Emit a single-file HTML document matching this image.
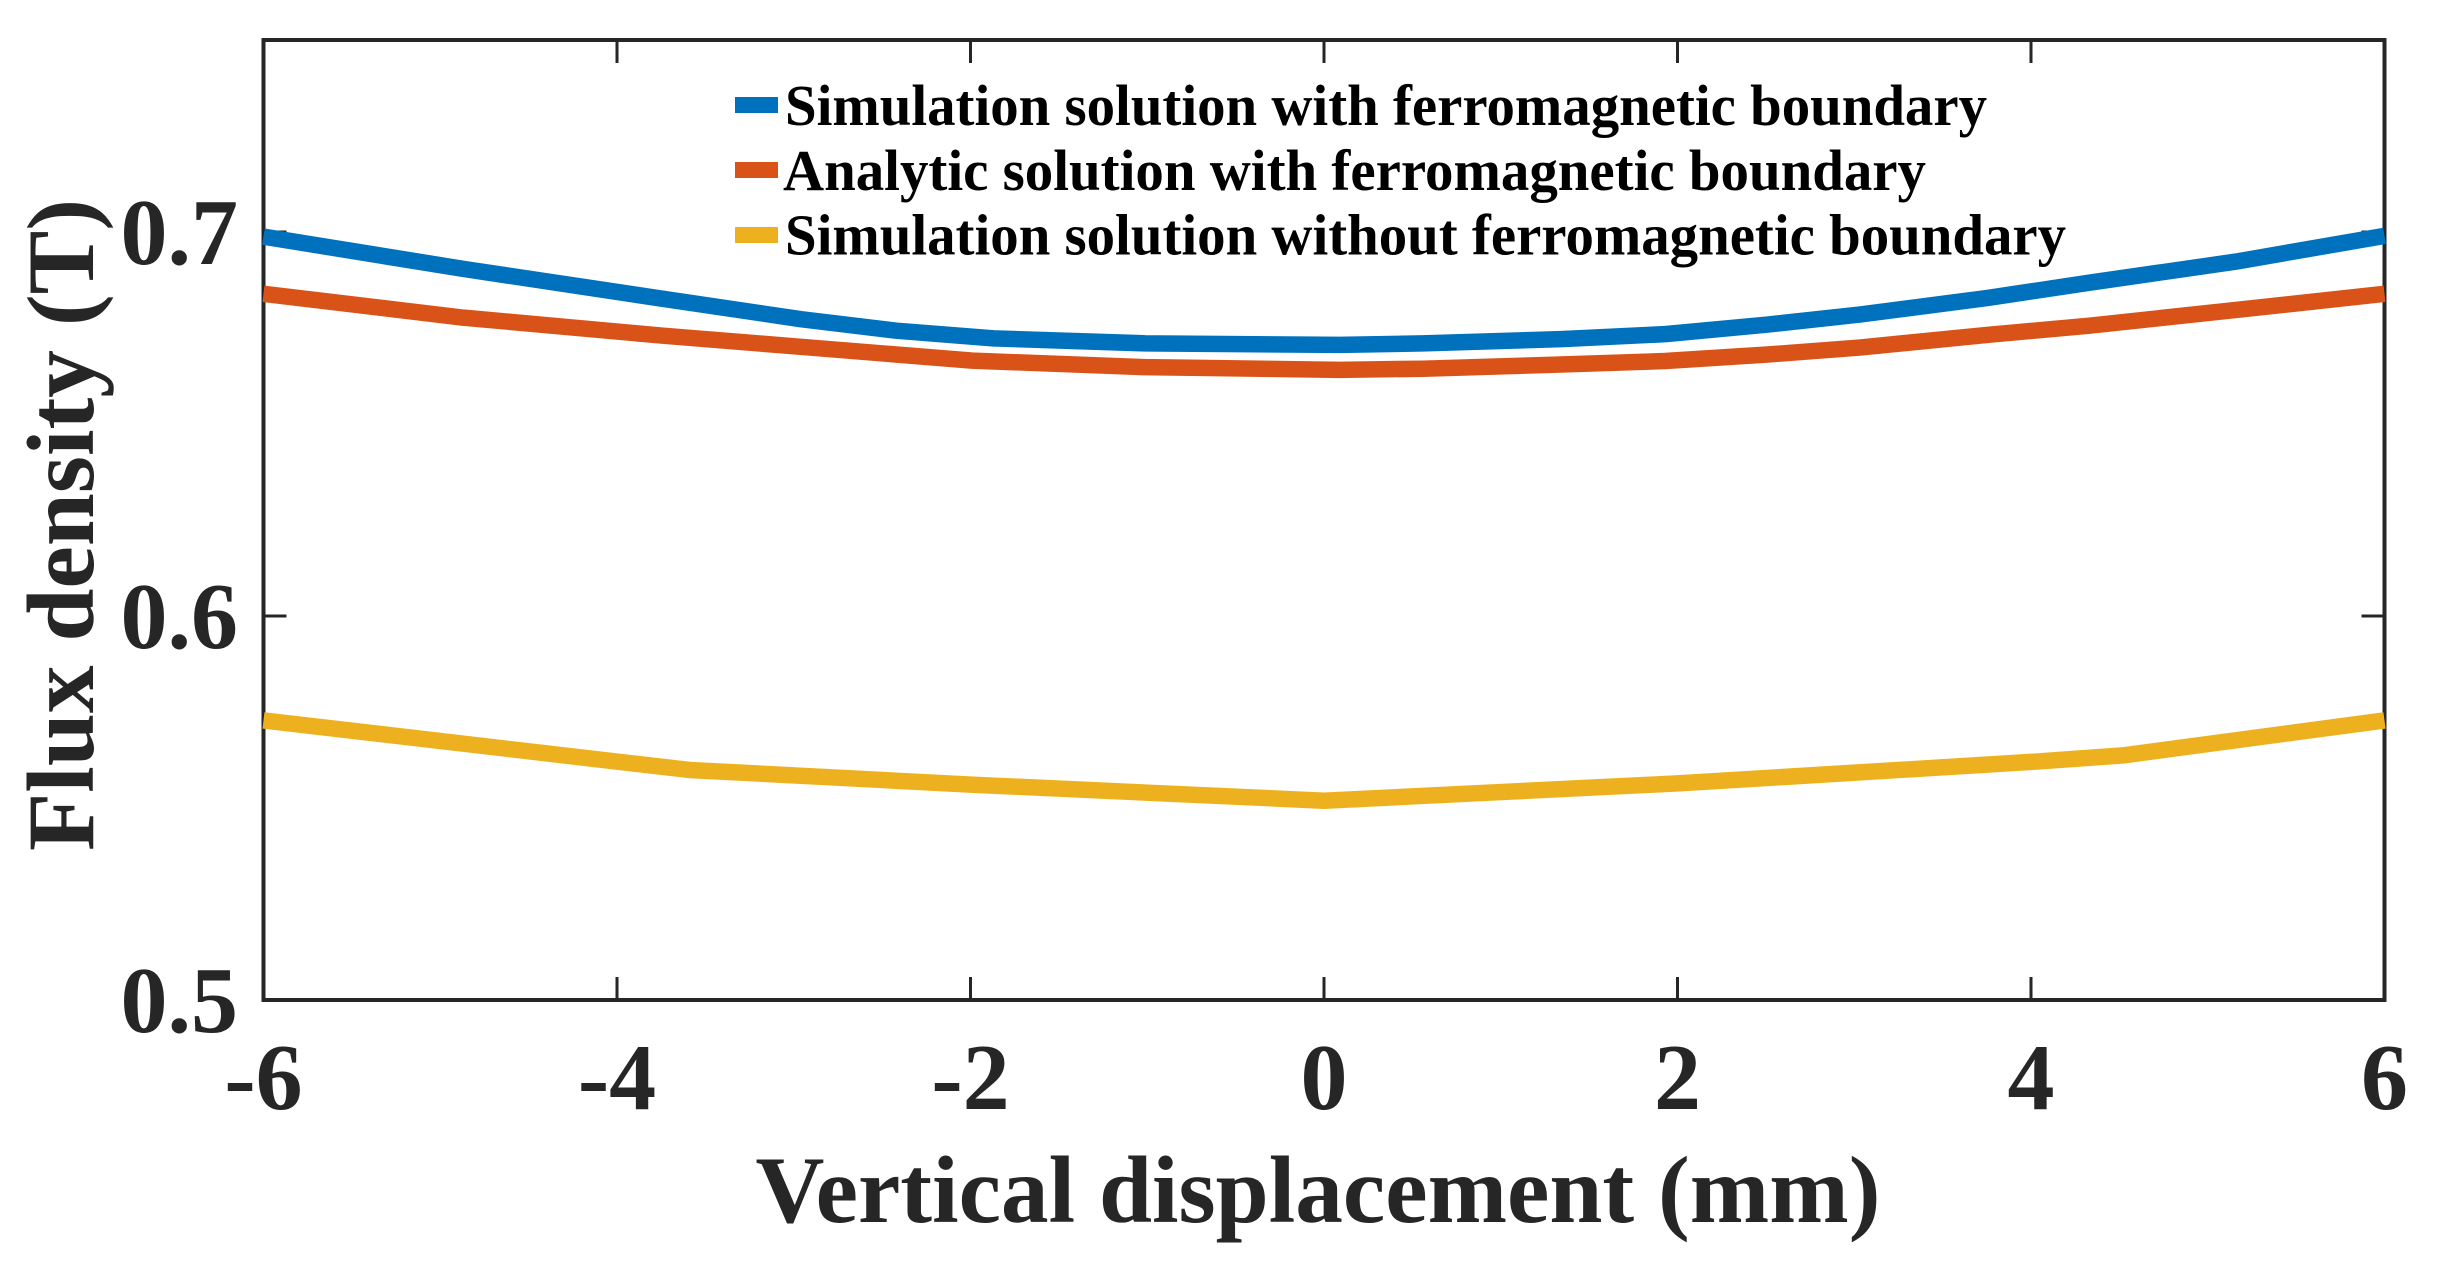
<!DOCTYPE html>
<html lang="en">
<head>
<meta charset="utf-8">
<title>Flux density vs vertical displacement</title>
<style>
  html, body { margin: 0; padding: 0; background: #fff; }
  body { width: 2437px; height: 1262px; overflow: hidden; }
  svg { display: block; }
  text { font-family: "Liberation Serif", serif; font-weight: bold; }
</style>
</head>
<body>
<svg id="chart" xmlns="http://www.w3.org/2000/svg" width="2437" height="1262" viewBox="0 0 2437 1262">
  <rect x="0" y="0" width="2437" height="1262" fill="#ffffff"/>
  <g id="axes"></g>
  <g id="series"></g>
  <text x="1318" y="1222" font-size="95" fill="#262626" text-anchor="middle" textLength="1125" lengthAdjust="spacingAndGlyphs">Vertical displacement (mm)</text>
  <text transform="translate(93 525) rotate(-90)" x="0" y="0" font-size="95" fill="#262626" text-anchor="middle" textLength="652" lengthAdjust="spacingAndGlyphs">Flux density (T)</text>
  <g>
    <rect x="735" y="97" width="43" height="16" fill="#0072bd"/>
    <text x="785" y="125" font-size="58" fill="#000000" textLength="1202" lengthAdjust="spacingAndGlyphs">Simulation solution with ferromagnetic boundary</text>
    <rect x="735" y="162" width="43" height="16" fill="#d95319"/>
    <text x="783" y="190" font-size="58" fill="#000000" textLength="1143" lengthAdjust="spacingAndGlyphs">Analytic solution with ferromagnetic boundary</text>
    <rect x="735" y="227" width="43" height="16" fill="#edb120"/>
    <text x="785" y="254.5" font-size="58" fill="#000000" textLength="1281" lengthAdjust="spacingAndGlyphs">Simulation solution without ferromagnetic boundary</text>
  </g>
</svg>
<script>
const xTicks = [-6, -4, -2, 0, 2, 4, 6];
const xTickLabels = ["-6", "-4", "-2", "0", "2", "4", "6"];
const yTicks = [0.5, 0.6, 0.7];
const yTickLabels = ["0.5", "0.6", "0.7"];
const blueX = [-6, -4.87, -3.74, -2.96, -2.42, -1.87, -1.01, 0.09, 0.56, 1.34, 1.93, 2.51, 3.03, 3.75, 4.33, 5.16, 6];
const blueY = [0.6988, 0.6904, 0.6826, 0.6773, 0.6743, 0.6723, 0.671, 0.6706, 0.671, 0.6721, 0.6734, 0.6759, 0.6785, 0.6828, 0.6868, 0.6923, 0.699];
const orangeX = [-6, -4.87, -3.74, -2.96, -1.99, -1.01, 0.09, 0.56, 1.34, 1.93, 2.51, 3.03, 3.75, 4.33, 5.16, 6];
const orangeY = [0.6839, 0.6777, 0.673, 0.6701, 0.6665, 0.6648, 0.6641, 0.6644, 0.6655, 0.6664, 0.6681, 0.6699, 0.6732, 0.6756, 0.6797, 0.6839];
const yellowX = [-6, -3.59, -2, 0, 2, 4, 4.52, 6];
const yellowY = [0.5728, 0.5599, 0.5561, 0.5519, 0.5564, 0.562, 0.5637, 0.5728];

const xMin = -6, xMax = 6, yMin = 0.5, yMax = 0.75;
const plotLeft = 263.5, plotRight = 2384.5, plotTop = 40, plotBottom = 1000;
const tickLength = 23;
const axisColor = "#262626";
const NS = "http://www.w3.org/2000/svg";

function xScale(v) { return plotLeft + (v - xMin) / (xMax - xMin) * (plotRight - plotLeft); }
function yScale(v) { return plotBottom - (v - yMin) / (yMax - yMin) * (plotBottom - plotTop); }

function addLine(parent, x1, y1, x2, y2, width) {
  const el = document.createElementNS(NS, "line");
  el.setAttribute("x1", x1);
  el.setAttribute("y1", y1);
  el.setAttribute("x2", x2);
  el.setAttribute("y2", y2);
  el.setAttribute("stroke", axisColor);
  el.setAttribute("stroke-width", width);
  parent.appendChild(el);
  return el;
}

const seriesGroup = document.getElementById("series");
const axesGroup = document.getElementById("axes");

function addSeries(xs, ys, color) {
  const el = document.createElementNS(NS, "polyline");
  el.setAttribute("points", xs.map((x, i) => xScale(x).toFixed(2) + "," + yScale(ys[i]).toFixed(2)).join(" "));
  el.setAttribute("fill", "none");
  el.setAttribute("stroke", color);
  el.setAttribute("stroke-width", "16.5");
  el.setAttribute("stroke-linejoin", "round");
  seriesGroup.appendChild(el);
  return el;
}

const frame = document.createElementNS(NS, "rect");


frame.setAttribute("x", plotLeft);
frame.setAttribute("y", plotTop);
frame.setAttribute("width", plotRight - plotLeft);
frame.setAttribute("height", plotBottom - plotTop);
frame.setAttribute("fill", "none");
frame.setAttribute("stroke", axisColor);
frame.setAttribute("stroke-width", "4");
axesGroup.appendChild(frame);

xTicks.forEach((t, i) => {
  const px = xScale(t);
  if (t !== xMin && t !== xMax) {
    const tickBottom = addLine(axesGroup, px, plotBottom, px, plotBottom - tickLength, 3);
    
    
    const tickTop = addLine(axesGroup, px, plotTop, px, plotTop + tickLength, 3);
    
    
  }
  const label = document.createElementNS(NS, "text");
  
  
  label.setAttribute("x", px);
  label.setAttribute("y", 1109);
  label.setAttribute("font-size", "94");
  label.setAttribute("fill", axisColor);
  label.setAttribute("text-anchor", "middle");
  label.textContent = xTickLabels[i];
  axesGroup.appendChild(label);
});

yTicks.forEach((t, i) => {
  const py = yScale(t);
  if (t !== yMin) {
    const tickLeft = addLine(axesGroup, plotLeft, py, plotLeft + tickLength, py, 3);
    
    
    const tickRight = addLine(axesGroup, plotRight, py, plotRight - tickLength, py, 3);
    
    
  }
  const label = document.createElementNS(NS, "text");
  
  
  label.setAttribute("x", 238);
  label.setAttribute("y", py + 32);
  label.setAttribute("font-size", "94");
  label.setAttribute("fill", axisColor);
  label.setAttribute("text-anchor", "end");
  label.textContent = yTickLabels[i];
  axesGroup.appendChild(label);
});

const blueLine = addSeries(blueX, blueY, "#0072bd");


const orangeLine = addSeries(orangeX, orangeY, "#d95319");


const yellowLine = addSeries(yellowX, yellowY, "#edb120");


</script>
</body>
</html>
